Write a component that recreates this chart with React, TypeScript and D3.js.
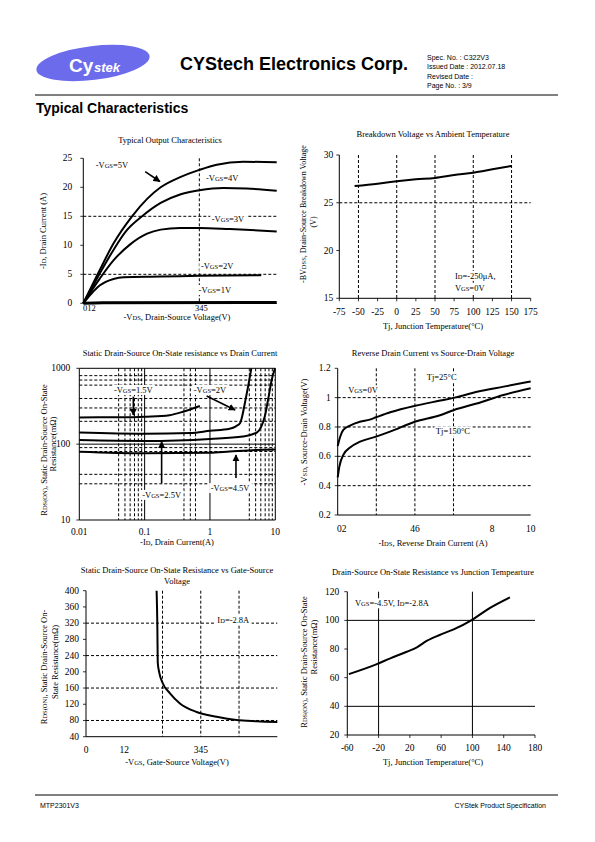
import React, { useLayoutEffect, useRef, useState } from "react";
import * as d3 from "d3";

// ---------- Data ----------
// Chart 1: Typical Output Characteristics (-VDS in V, -ID in A)
const out5V_v = [0, 0.43, 0.78, 1.26, 1.65, 2.0, 2.52, 3.0, 3.45, 4.14, 5];
const out5V_i = [0, 5.8, 10.3, 15, 18, 20, 21.8, 23, 23.9, 24.4, 24.3];
const out4V_v = [0, 0.43, 0.78, 1.1, 1.52, 2.0, 2.52, 3.0, 3.62, 4.22, 5];
const out4V_i = [0, 5.2, 9.2, 12.4, 15, 17.3, 18.8, 19.5, 19.9, 19.8, 19.4];
const out3V_v = [0, 0.43, 0.78, 1.22, 1.65, 2.0, 2.5, 3.0, 3.79, 5];
const out3V_i = [0, 4.3, 7.4, 10.2, 12, 12.7, 13.0, 13.0, 12.8, 12.4];
const out2V_v = [0, 0.2, 0.43, 0.78, 1.04, 2.0, 3.0, 4.6];
const out2V_i = [0, 1.6, 3.1, 4.2, 4.5, 4.6, 4.75, 4.85];
const out1V_v = [0, 0.5, 5];
const out1V_i = [0, 0.1, 0.15];
const out_yTicks = [0, 5, 10, 15, 20, 25];

// Chart 2: Breakdown voltage vs temperature
const bv_t = [-55, -25, 0, 25, 50, 75, 100, 125, 150];
const bv_v = [26.75, 27.0, 27.25, 27.45, 27.6, 27.9, 28.15, 28.5, 28.85];
const bv_xTicks = [-75, -50, -25, 0, 25, 50, 75, 100, 125, 150, 175];
const bv_yTicks = [15, 20, 25, 30];

// Chart 3: RDS(on) vs drain current (log-log)
const rI15_i = [0.01, 0.03, 0.06, 0.107, 0.24, 0.39, 0.7];
const rI15_r = [225, 226, 226, 230, 241, 268, 318];
const rI2_i = [0.01, 0.1, 0.5, 1, 2, 2.5, 2.9, 3.1, 3.45, 3.87, 4.3];
const rI2_r = [142, 137, 140, 150, 160, 172, 190, 230, 360, 600, 1000];
const rI25_i = [0.01, 0.1, 1, 3.2, 5.2, 6.1, 6.9, 7.9, 8.8, 9.9];
const rI25_r = [113, 110, 117, 126, 142, 170, 231, 423, 701, 1000];
const rI45_i = [0.01, 0.1, 1, 2, 5, 10];
const rI45_r = [79.6, 76, 77, 80, 84, 85];
const rI_xTicks = [0.01, 0.1, 1, 10];
const rI_yTicks = [10, 100, 1000];
const rI_xMinor = [0.04, 0.05, 0.06, 0.07, 0.08, 0.09, 0.4, 0.5, 0.6, 4, 5, 6, 7, 8, 9];
const rI_yMinor = [800, 700, 600, 400, 300, 200, 90, 80, 40, 30];

// Chart 4: Reverse drain current vs source-drain voltage
const sd25_i = [0, 0.12, 0.29, 0.64, 1.15, 1.66, 1.99, 2.72, 4.02, 5.32, 6.05, 7.22, 8.6, 10];
const sd25_v = [0.67, 0.73, 0.78, 0.81, 0.836, 0.85, 0.866, 0.9, 0.945, 0.98, 1.0, 1.04, 1.075, 1.11];
const sd150_i = [0, 0.086, 0.29, 0.64, 1.16, 1.99, 2.71, 4.0, 5.3, 6.03, 7.2, 8.58, 10];
const sd150_v = [0.457, 0.53, 0.61, 0.66, 0.7, 0.734, 0.768, 0.836, 0.88, 0.916, 0.96, 1.018, 1.064];
const sd_yTicks = [0.2, 0.4, 0.6, 0.8, 1, 1.2];

// Chart 5: RDS(on) vs VGS
const rv_v = [3.69, 3.73, 3.75, 3.83, 4.0, 4.39, 4.91, 5.78, 6.83, 7.87, 8.92, 10];
const rv_r = [400, 311, 223, 198, 173, 147, 122, 101, 89, 81, 78, 76];
const rv_yTicks = [40, 80, 120, 160, 200, 240, 280, 320, 360, 400];

// Chart 6: RDS(on) vs junction temperature
const rt_t = [-58, -23, -5, 16, 29, 42, 58, 76, 99, 118, 148];
const rt_r = [62.5, 69.3, 73.5, 78.1, 81.2, 85.8, 89.8, 93.7, 100.2, 107.2, 116];
const rt_xTicks = [-60, -20, 20, 60, 100, 140, 180];
const rt_yTicks = [20, 40, 60, 80, 100, 120];

const SERIF = "'Liberation Serif','Times New Roman',serif";
const SANS = "'Liberation Sans',Arial,sans-serif";

const zip = (xs: number[], ys: number[]) => xs.map((x, i) => [x, ys[i]] as [number, number]);

function curvePath(xs: number[], ys: number[], sx: any, sy: any) {
  return d3
    .line<[number, number]>()
    .x((d) => sx(d[0]))
    .y((d) => sy(d[1]))
    .curve(d3.curveMonotoneX)(zip(xs, ys)) as string;
}

const DASH = "3,2";

function YTicks({ ticks, sy, x0, off }: any) {
  return (
    <g>
      {ticks.map((t: number) => (
        <g key={t}>
          <line x1={x0 - 3} x2={x0} y1={sy(t)} y2={sy(t)} stroke="#000" strokeWidth={0.8} />
          <text x={x0 - off} y={sy(t)} textAnchor="end" dominantBaseline="central" fontSize={9.5} fontFamily={SERIF}>
            {t}
          </text>
        </g>
      ))}
    </g>
  );
}

// text with a white box behind it (hides grid lines, like the reference)
function BoxText({ x, y, anchor = "middle", children }: any) {
  const ref = useRef<SVGTextElement>(null);
  const [bb, setBb] = useState<any>(null);
  useLayoutEffect(() => {
    if (ref.current) {
      const b = ref.current.getBBox();
      setBb({ x: b.x, y: b.y, w: b.width, h: b.height });
    }
  }, []);
  return (
    <g>
      {bb && <rect x={bb.x - 1.5} y={bb.y} width={bb.w + 3} height={bb.h} fill="#fff" />}
      <text ref={ref} x={x} y={y} textAnchor={anchor} dominantBaseline="central" fontSize={8.5} fontFamily={SERIF}>
        {children}
      </text>
    </g>
  );
}

export default function App() {
  const x1 = d3.scaleLinear().domain([0, 5]).range([83.3, 276.7]);
  const y1 = d3.scaleLinear().domain([0, 25]).range([303.3, 158.3]);
  const x2 = d3.scaleLinear().domain([-75, 175]).range([339.3, 530.7]);
  const y2 = d3.scaleLinear().domain([15, 30]).range([298.3, 155]);
  const x3 = d3.scaleLog().domain([0.01, 10]).range([79.3, 275.3]);
  const y3 = d3.scaleLog().domain([10, 1000]).range([520, 368.3]);
  const x4 = d3.scaleLinear().domain([0, 10]).range([337.7, 530.7]);
  const y4 = d3.scaleLinear().domain([0.2, 1.2]).range([515, 368.3]);
  const x5 = d3.scaleLinear().domain([0, 10]).range([86, 277.3]);
  const y5 = d3.scaleLinear().domain([40, 400]).range([736.7, 590.7]);
  const x6 = d3.scaleLinear().domain([-60, 180]).range([347.3, 535]);
  const y6 = d3.scaleLinear().domain([20, 120]).range([735, 591.7]);

  const sub = (s: string) => <tspan fontSize={6.5}>{s}</tspan>;

  const axes = (sx: any, sy: any) => {
    const [xa, xb] = sx.range();
    const [ya, yb] = sy.range();
    return (
      <g stroke="#000" strokeWidth={1}>
        <line x1={xa} x2={xa} y1={ya} y2={yb} />
        <line x1={xa} x2={xb} y1={ya} y2={ya} />
      </g>
    );
  };

  const title = (x: number, y: number, s: string) => (
    <text x={x} y={y} textAnchor="middle" fontSize={8.5} fontFamily={SERIF}>
      {s}
    </text>
  );

  const vtext = (x: number, y: number, content: any, fs = 8.5) => (
    <text
      x={x}
      y={y}
      transform={`rotate(-90 ${x} ${y})`}
      textAnchor="middle"
      dominantBaseline="central"
      fontSize={fs}
      fontFamily={SERIF}
    >
      {content}
    </text>
  );

  const arrow = (sx: any, sy: any, a: [number, number], b: [number, number]) => (
    <line x1={sx(a[0])} y1={sy(a[1])} x2={sx(b[0])} y2={sy(b[1])} stroke="#000" strokeWidth={1.6} markerEnd="url(#ah)" />
  );

  const lbl = (sx: any, sy: any, x: number, y: number, content: any, anchor = "middle") => (
    <BoxText x={sx(x)} y={sy(y)} anchor={anchor}>
      {content}
    </BoxText>
  );

  const curveStyle = { fill: "none", stroke: "#000", strokeWidth: 2 };

  return (
    <div style={{ position: "absolute", left: 0, top: 0 }}>
      <svg width={595} height={842} viewBox="0 0 595 842" style={{ display: "block", background: "#fff" }}>
        <defs>
          <marker id="ah" viewBox="0 0 10 10" refX={9} refY={5} markerWidth={4.5} markerHeight={4.5} orient="auto">
            <path d="M0,0 L10,5 L0,10 z" fill="#000" />
          </marker>
        </defs>
        <rect width={595} height={842} fill="#fff" />

        {/* ---------- Header ---------- */}
        <ellipse cx={93} cy={63} rx={57} ry={17} fill="#6b6bec" transform="rotate(-7 93 63)" />
        <text x={69} y={72} fontSize={19} fontWeight="bold" fill="#fff" fontFamily={SANS}>
          Cy
        </text>
        <text x={94} y={72} fontSize={13} fontWeight="bold" fontStyle="italic" fill="#fff" fontFamily={SANS}>
          stek
        </text>
        <text x={180} y={70} fontSize={18} fontWeight="bold" fontFamily={SANS}>
          CYStech Electronics Corp.
        </text>
        <g fontSize={7} fontFamily={SANS}>
          <text x={427} y={60}>Spec. No. : C322V3</text>
          <text x={427} y={69}>Issued Date : 2012.07.18</text>
          <text x={427} y={78.5}>Revised Date :</text>
          <text x={427} y={87.5}>Page No. : 3/9</text>
        </g>
        <line x1={35} x2={558} y1={95} y2={95} stroke="#000" strokeWidth={1} />
        <text x={36} y={113} fontSize={14} fontWeight="bold" fontFamily={SANS}>
          Typical Characteristics
        </text>

        {/* ---------- Chart 1 ---------- */}
        {title(170, 143, "Typical Output Characteristics")}
        <g stroke="#000" strokeWidth={1} strokeDasharray={DASH}>
          {[5, 15].map((v) => (
            <line key={v} x1={x1(0)} x2={x1(5)} y1={y1(v)} y2={y1(v)} />
          ))}
          <line x1={x1(3)} x2={x1(3)} y1={y1(25)} y2={y1(0)} />
        </g>
        {axes(x1, y1)}
        <YTicks ticks={out_yTicks} sy={y1} x0={x1(0)} off={11} />
        <text x={x1(0) + 6} y={307.5} textAnchor="middle" dominantBaseline="central" fontSize={8.5} fontFamily={SERIF}>012</text>
        <text x={x1(3) + 2} y={307.5} textAnchor="middle" dominantBaseline="central" fontSize={8.5} fontFamily={SERIF}>345</text>
        {lbl(x1, y1, 0.74, 23.8, <>-V{sub("GS")}=5V</>)}
        {lbl(x1, y1, 3.59, 21.6, <>-V{sub("GS")}=4V</>)}
        {lbl(x1, y1, 3.74, 14.5, <>-V{sub("GS")}=3V</>)}
        {lbl(x1, y1, 3.46, 6.4, <>-V{sub("GS")}=2V</>)}
        {lbl(x1, y1, 3.4, 2.3, <>-V{sub("GS")}=1V</>)}
        <path d={curvePath(out5V_v, out5V_i, x1, y1)} {...curveStyle} />
        <path d={curvePath(out4V_v, out4V_i, x1, y1)} {...curveStyle} />
        <path d={curvePath(out3V_v, out3V_i, x1, y1)} {...curveStyle} />
        <path d={curvePath(out2V_v, out2V_i, x1, y1)} {...curveStyle} />
        <path d={curvePath(out1V_v, out1V_i, x1, y1)} {...curveStyle} strokeWidth={3} />
        {arrow(x1, y1, [1.6, 22.7], [1.98, 21.0])}
        {vtext(43, 231, <>-I{sub("D")}, Drain Current (A)</>)}
        <text x={177} y={320} textAnchor="middle" fontSize={8.5} fontFamily={SERIF}>
          -V{sub("DS")}, Drain-Source Voltage(V)
        </text>

        {/* ---------- Chart 2 ---------- */}
        {title(433, 137, "Breakdown Voltage vs Ambient Temperature")}
        <g stroke="#000" strokeWidth={1} strokeDasharray={DASH}>
          {[-50, 0, 50, 100, 150].map((v) => (
            <line key={v} x1={x2(v)} x2={x2(v)} y1={y2(30)} y2={y2(15)} />
          ))}
          <line x1={x2(-75)} x2={x2(175)} y1={y2(25)} y2={y2(25)} />
        </g>
        {axes(x2, y2)}
        <YTicks ticks={bv_yTicks} sy={y2} x0={x2(-75)} off={6} />
        {bv_xTicks.map((t) => (
          <g key={t}>
            <line x1={x2(t)} x2={x2(t)} y1={y2(15)} y2={y2(15) + 3} stroke="#000" strokeWidth={0.8} />
            <text x={x2(t)} y={312} textAnchor="middle" dominantBaseline="central" fontSize={9.5} fontFamily={SERIF}>{t}</text>
          </g>
        ))}
        {lbl(x2, y2, 76, 17.35, <>I{sub("D")}=-250μA,</>, "start")}
        {lbl(x2, y2, 76, 16.1, <>V{sub("GS")}=0V</>, "start")}
        <path d={curvePath(bv_t, bv_v, x2, y2)} {...curveStyle} />
        {vtext(303, 214, <>-BV{sub("DSS")}, Drain-Source Breakdown Voltage</>, 8)}
        {vtext(313, 222, "(V)", 8)}
        <text x={433} y={329} textAnchor="middle" fontSize={8.5} fontFamily={SERIF}>
          Tj, Junction Temperature(°C)
        </text>

        {/* ---------- Chart 3 ---------- */}
        {title(180, 356, "Static Drain-Source On-State resistance vs Drain Current")}
        <g stroke="#000" strokeWidth={1} strokeDasharray={DASH}>
          {rI_xMinor.map((v) => (
            <line key={"x" + v} x1={x3(v)} x2={x3(v)} y1={y3(1000)} y2={y3(10)} />
          ))}
          {rI_yMinor.map((v) => (
            <line key={"y" + v} x1={x3(0.01)} x2={x3(10)} y1={y3(v)} y2={y3(v)} />
          ))}
        </g>
        <g stroke="#000" strokeWidth={1}>
          {[0.1, 1, 10].map((v) => (
            <line key={v} x1={x3(v)} x2={x3(v)} y1={y3(1000)} y2={y3(10)} />
          ))}
          {[100, 1000].map((v) => (
            <line key={v} x1={x3(0.01)} x2={x3(10)} y1={y3(v)} y2={y3(v)} />
          ))}
        </g>
        {axes(x3, y3)}
        <YTicks ticks={rI_yTicks} sy={y3} x0={x3(0.01)} off={9} />
        {rI_xTicks.map((t) => (
          <text key={t} x={x3(t)} y={531.5} textAnchor="middle" dominantBaseline="central" fontSize={9.5} fontFamily={SERIF}>{t}</text>
        ))}
        {lbl(x3, y3, 0.0671, 518, <>-V{sub("GS")}=1.5V</>)}
        {lbl(x3, y3, 1.0, 518, <>-V{sub("GS")}=2V</>)}
        {lbl(x3, y3, 0.182, 21.4, <>-V{sub("GS")}=2.5V</>)}
        {lbl(x3, y3, 2.03, 26.4, <>-V{sub("GS")}=4.5V</>)}
        <path d={curvePath(rI15_i, rI15_r, x3, y3)} {...curveStyle} />
        <path d={curvePath(rI2_i, rI2_r, x3, y3)} {...curveStyle} />
        <path d={curvePath(rI25_i, rI25_r, x3, y3)} {...curveStyle} />
        <path d={curvePath(rI45_i, rI45_r, x3, y3)} {...curveStyle} />
        {arrow(x3, y3, [0.0671, 423], [0.0671, 242])}
        {arrow(x3, y3, [0.89, 431], [2.42, 282])}
        {arrow(x3, y3, [0.182, 30.5], [0.182, 107.7])}
        {arrow(x3, y3, [2.5, 35.8], [2.5, 72])}
        {vtext(44, 450, <>R{sub("DS(ON)")}, Static Drain-Source On-State</>)}
        {vtext(53, 444, "Resistance(mΩ)")}
        <text x={177} y={544.5} textAnchor="middle" fontSize={8.5} fontFamily={SERIF}>
          -I{sub("D")}, Drain Current(A)
        </text>

        {/* ---------- Chart 4 ---------- */}
        {title(433, 356, "Reverse Drain Current vs Source-Drain Voltage")}
        <g stroke="#000" strokeWidth={1} strokeDasharray={DASH}>
          {[2, 4, 6].map((v) => (
            <line key={v} x1={x4(v)} x2={x4(v)} y1={y4(1.2)} y2={y4(0.2)} />
          ))}
          {[0.4, 0.6, 0.8, 1].map((v) => (
            <line key={v} x1={x4(0)} x2={x4(10)} y1={y4(v)} y2={y4(v)} />
          ))}
        </g>
        {axes(x4, y4)}
        <YTicks ticks={sd_yTicks} sy={y4} x0={x4(0)} off={7} />
        <g fontSize={9.5} fontFamily={SERIF} textAnchor="middle" dominantBaseline="central">
          <text x={x4(0) + 4} y={529}>02</text>
          <text x={x4(4)} y={529}>46</text>
          <text x={x4(8)} y={529}>8</text>
          <text x={x4(10)} y={529}>10</text>
        </g>
        {lbl(x4, y4, 5.39, 1.14, <>Tj=25°C</>)}
        {lbl(x4, y4, 1.31, 1.05, <>V{sub("GS")}=0V</>)}
        {lbl(x4, y4, 5.97, 0.77, <>Tj=150°C</>)}
        <path d={curvePath(sd25_i, sd25_v, x4, y4)} {...curveStyle} />
        <path d={curvePath(sd150_i, sd150_v, x4, y4)} {...curveStyle} />
        {vtext(304, 432, <>-V{sub("SD")}, Source-Drain Voltage(V)</>)}
        <text x={433} y={545.5} textAnchor="middle" fontSize={8.5} fontFamily={SERIF}>
          -I{sub("DS")}, Reverse Drain Current (A)
        </text>

        {/* ---------- Chart 5 ---------- */}
        {title(177, 573, "Static Drain-Source On-State Resistance vs Gate-Source")}
        {title(177, 583.5, "Voltage")}
        <g stroke="#000" strokeWidth={1} strokeDasharray={DASH}>
          {[4, 6, 8].map((v) => (
            <line key={v} x1={x5(v)} x2={x5(v)} y1={y5(400)} y2={y5(40)} />
          ))}
          {[80, 160, 240, 320].map((v) => (
            <line key={v} x1={x5(0)} x2={x5(10)} y1={y5(v)} y2={y5(v)} />
          ))}
        </g>
        {axes(x5, y5)}
        <YTicks ticks={rv_yTicks} sy={y5} x0={x5(0)} off={7} />
        <g fontSize={9.5} fontFamily={SERIF} textAnchor="middle" dominantBaseline="central">
          <text x={x5(0)} y={750}>0</text>
          <text x={x5(2)} y={750}>12</text>
          <text x={x5(6)} y={750}>345</text>
        </g>
        {lbl(x5, y5, 7.7, 327.7, <>I{sub("D")}=-2.8A</>)}
        <path d={curvePath(rv_v, rv_r, x5, y5)} {...curveStyle} />
        {vtext(44, 667, <>R{sub("DS(ON)")}, Static Drain-Source On-</>)}
        {vtext(55, 662, "State Resistance(mΩ)")}
        <text x={177} y={764.5} textAnchor="middle" fontSize={8.5} fontFamily={SERIF}>
          -V{sub("GS")}, Gate-Source Voltage(V)
        </text>

        {/* ---------- Chart 6 ---------- */}
        {title(433, 574.5, "Drain-Source On-State Resistance vs Junction Tempearture")}
        <g stroke="#000" strokeWidth={1}>
          {[-20, 100].map((v) => (
            <line key={v} x1={x6(v)} x2={x6(v)} y1={y6(120)} y2={y6(20)} />
          ))}
          {[40, 100].map((v) => (
            <line key={v} x1={x6(-60)} x2={x6(180)} y1={y6(v)} y2={y6(v)} />
          ))}
        </g>
        {axes(x6, y6)}
        <YTicks ticks={rt_yTicks} sy={y6} x0={x6(-60)} off={8} />
        {rt_xTicks.map((t) => (
          <g key={t}>
            <line x1={x6(t)} x2={x6(t)} y1={y6(20)} y2={y6(20) + 3} stroke="#000" strokeWidth={0.8} />
            <text x={x6(t)} y={748} textAnchor="middle" dominantBaseline="central" fontSize={9.5} fontFamily={SERIF}>{t}</text>
          </g>
        ))}
        {lbl(x6, y6, -50.2, 111.9, <>V{sub("GS")}=-4.5V, I{sub("D")}=-2.8A</>, "start")}
        <path d={curvePath(rt_t, rt_r, x6, y6)} {...curveStyle} />
        {vtext(304, 662, <>R{sub("DS(ON)")}, Static Drain-Source On-State</>)}
        {vtext(313.5, 647, "Resistance(mΩ)")}
        <text x={433} y={764.5} textAnchor="middle" fontSize={8.5} fontFamily={SERIF}>
          Tj, Junction Temperature(°C)
        </text>

        {/* ---------- Footer ---------- */}
        <line x1={35} x2={558} y1={795} y2={795} stroke="#000" strokeWidth={1} />
        <text x={40} y={808} fontSize={7} fontFamily={SANS}>MTP2301V3</text>
        <text x={546} y={808} fontSize={7} fontFamily={SANS} textAnchor="end">CYStek Product Specification</text>
      </svg>
    </div>
  );
}
